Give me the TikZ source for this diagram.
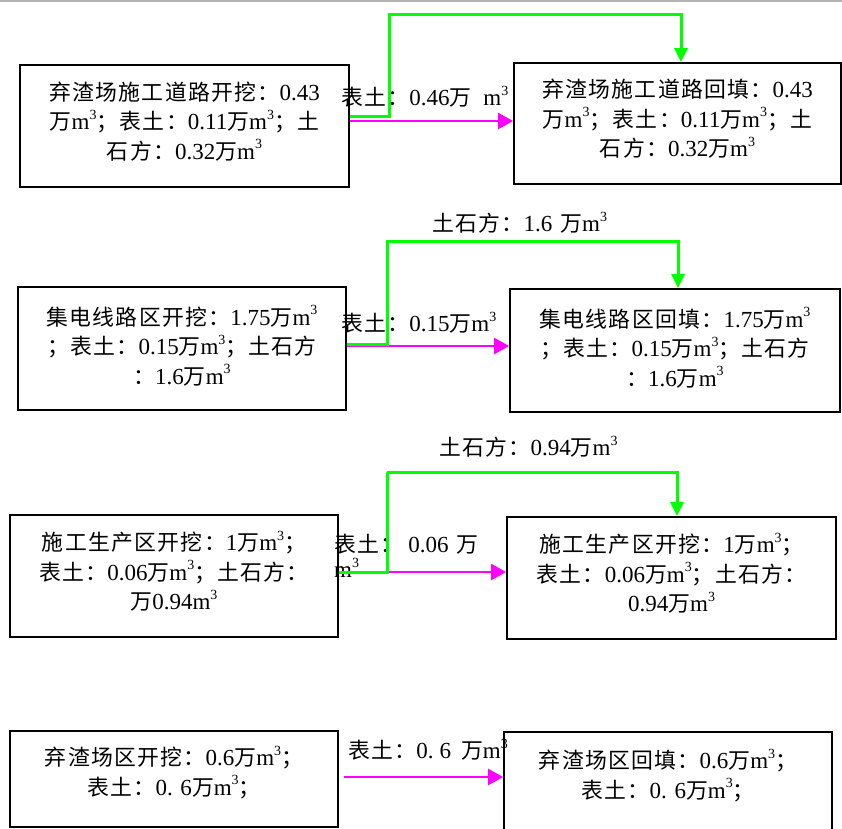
\documentclass[tikz,border=0pt]{standalone}
\usepackage{fontspec}
\setmainfont{Liberation Serif}
\newfontfamily\cjk[Scale=0.95,LetterSpace=6]{Noto Sans CJK SC}
\usetikzlibrary{arrows.meta}
\newcommand\zh[1]{{\cjk #1}}
\newcommand\cub{m\raisebox{0.45em}{\fontsize{14}{14}\selectfont 3}}
\newcommand\dn[1]{\rule[-#1]{0pt}{1pt}}
\definecolor{lgreen}{RGB}{0,255,0}
\definecolor{lmag}{RGB}{255,0,255}
\definecolor{topgray}{RGB}{180,180,180}
\begin{document}
\begin{tikzpicture}[x=1pt,y=-1pt,
  box/.style={draw=black,line width=1.8pt,align=center,inner sep=0pt,font=\fontsize{23}{29.5}\selectfont},
  lbl/.style={inner sep=0pt,anchor=west,align=left,font=\fontsize{23}{25}\selectfont},
  gline/.style={draw=lgreen,line width=3pt,-{Triangle[length=14pt,width=13pt]}},
  mline/.style={draw=lmag,line width=2.6pt,-{Triangle[length=15pt,width=16pt]}}]
\useasboundingbox (0,0) rectangle (842,828);
\draw[topgray,line width=1.5pt] (0,0.75) -- (842,0.75);
% boxes
\node[box,minimum width=329pt,minimum height=122pt] (L1) at (184.5,126)
  {\zh{弃渣场施工道路开挖：}0.43\\\zh{万}\cub\zh{；表土：}0.11\zh{万}\cub\zh{；土}\\\zh{石方：}0.32\zh{万}\cub\dn{11pt}};
\node[box,minimum width=327pt,minimum height=121pt] (R1) at (677.5,123.5)
  {\zh{弃渣场施工道路回填：}0.43\\\zh{万}\cub\zh{；表土：}0.11\zh{万}\cub\zh{；土}\\\zh{石方：}0.32\zh{万}\cub\dn{11pt}};
\node[box,minimum width=328pt,minimum height=123pt] (L2) at (182,348.5)
  {\zh{集电线路区开挖：}1.75\zh{万}\cub\\\zh{；表土：}0.15\zh{万}\cub\zh{；土石方}\\\zh{：}1.6\zh{万}\cub\dn{7pt}};
\node[box,minimum width=330pt,minimum height=123pt] (R2) at (675,350.5)
  {\zh{集电线路区回填：}1.75\zh{万}\cub\\\zh{；表土：}0.15\zh{万}\cub\zh{；土石方}\\\zh{：}1.6\zh{万}\cub\dn{7pt}};
\node[box,minimum width=328pt,minimum height=122pt] (L3) at (174,576)
  {\zh{施工生产区开挖：}1\zh{万}\cub\zh{；}\\\zh{表土：}0.06\zh{万}\cub\zh{；土石方：}\\\zh{万}0.94\cub\dn{11pt}};
\node[box,minimum width=329pt,minimum height=122pt] (R3) at (671.5,578)
  {\zh{施工生产区开挖：}1\zh{万}\cub\zh{；}\\\zh{表土：}0.06\zh{万}\cub\zh{；土石方：}\\0.94\zh{万}\cub\dn{11pt}};
\node[box,minimum width=328pt,minimum height=96pt] (L4) at (174,779)
  {\zh{弃渣场区开挖：}0.6\zh{万}\cub\zh{；}\\\zh{表土：}0. 6\zh{万}\cub\zh{；}\dn{17pt}};
\node[box,minimum width=328pt,minimum height=100pt] (R4) at (668,782)
  {\zh{弃渣场区回填：}0.6\zh{万}\cub\zh{；}\\\zh{表土：}0. 6\zh{万}\cub\zh{；}\dn{17pt}};
% labels
\node[lbl] (s2) at (432,223) {\zh{土石方：}1.6\hspace{8pt}\zh{万}\cub};
\node[lbl] (t2) at (341,323) {\zh{表土：}0.15\zh{万}\cub};
\node[lbl] (s3) at (439,447) {\zh{土石方：}0.94\zh{万}\cub};
\node[lbl] (t3) at (334,556) {\zh{表土：}\hspace{6pt}0.06\hspace{8pt}\zh{万}\\\cub};
\node[lbl] (t4) at (348,750) {\zh{表土：}0.\hspace{6pt}6\hspace{10pt}\zh{万}\cub};
% row 1 connectors
\coordinate (g1) at (389,14);
\coordinate (m1) at ([yshift=5pt]L1.east);
\draw[mline] (m1) -- (m1 -| R1.west);
\draw[gline] ([yshift=10pt]L1.east) -| (g1) -| ([xshift=3.5pt]R1.north);
\node[lbl] (t1) at (341,97) {\zh{表土：}0.46\zh{万}\hspace{12pt}\cub};
% row 2 connectors
\coordinate (g2) at (387,241);
\coordinate (m2) at ([yshift=2.5pt]L2.east);
\draw[mline] (m2) -- (m2 -| R2.west);
\draw[gline] ([yshift=4.5pt]L2.east) -| (g2) -| ([xshift=3pt]R2.north);
% row 3 connectors
\coordinate (g3) at (387,472);
\coordinate (c3) at ([yshift=4pt,xshift=49pt]L3.east);
\draw[mline] (c3) -- (c3 -| R3.west);
\draw[gline] ([yshift=4pt]L3.east) -- (c3) |- (g3) -| ([xshift=5.5pt]R3.north);
% row 4 connector
\coordinate (m4) at ([yshift=2pt,xshift=5pt]L4.east);
\draw[mline] (m4) -- (m4 -| R4.west);
\end{tikzpicture}
\end{document}
